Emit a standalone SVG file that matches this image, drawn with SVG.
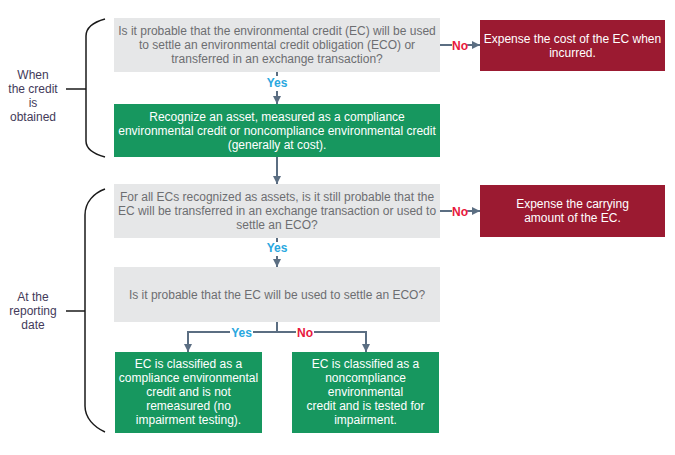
<svg xmlns="http://www.w3.org/2000/svg" width="675" height="455" viewBox="0 0 675 455">
<defs>
<marker id="ah" markerUnits="userSpaceOnUse" markerWidth="9" markerHeight="9" refX="8" refY="4" orient="auto">
<path d="M0,0 L8,4 L0,8 z" fill="#5b6e82"/>
</marker>
<style>
text{font-family:"Liberation Sans",Arial,sans-serif;font-size:12px;text-anchor:middle}
.q rect{fill:#e6e7e8}
.q text{fill:#6d6e71}
.g rect{fill:#17975f}
.r rect{fill:#9b1a31}
.g text,.r text{fill:#ffffff}
.lbl{fill:#433a5a}
.yes{fill:#29a8e0;font-weight:bold;font-size:12px}
.no{fill:#e8183d;font-weight:bold;font-size:12px}
.c{stroke:#5b6e82;stroke-width:2;fill:none}
.br{stroke:#1a1a1a;stroke-width:1.5;fill:none}
</style>
</defs>
<rect width="675" height="455" fill="#ffffff"/>

<g id="brace1">
<path class="br" d="M105,19 C94,22 86,27 86,36 V141 C86,149 94,154 105,157"/>
<path class="br" d="M66,89 H86"/>
<text class="lbl" x="33" y="79">When</text>
<text class="lbl" x="33" y="93">the credit</text>
<text class="lbl" x="33" y="107">is</text>
<text class="lbl" x="33" y="121">obtained</text>
</g>

<g id="brace2">
<path class="br" d="M105,189 C94,193 85,202 85,215 V406 C85,418 94,427 105,432"/>
<path class="br" d="M66,311 H85"/>
<text class="lbl" x="33" y="301">At the</text>
<text class="lbl" x="33" y="315">reporting</text>
<text class="lbl" x="33" y="329">date</text>
</g>

<g id="q1" class="q">
<rect x="114" y="18" width="326" height="54"/>
<text x="277" y="34.5">Is it probable that the environmental credit (EC) will be used</text>
<text x="277" y="48.5">to settle an environmental credit obligation (ECO) or</text>
<text x="277" y="62.5">transferred in an exchange transaction?</text>
</g>

<g id="e1" class="r">
<rect x="480" y="20" width="185" height="51"/>
<text x="572.5" y="42.5">Expense the cost of the EC when</text>
<text x="572.5" y="56.5">incurred.</text>
</g>

<g id="a1" class="g">
<rect x="114" y="104" width="326" height="53"/>
<text x="277" y="121">Recognize an asset, measured as a compliance</text>
<text x="277" y="135">environmental credit or noncompliance environmental credit</text>
<text x="277" y="149">(generally at cost).</text>
</g>

<g id="q2" class="q">
<rect x="114" y="184" width="326" height="54"/>
<text x="277" y="201">For all ECs recognized as assets, is it still probable that the</text>
<text x="277" y="215">EC will be transferred in an exchange transaction or used to</text>
<text x="277" y="229">settle an ECO?</text>
</g>

<g id="e2" class="r">
<rect x="480" y="185" width="185" height="52"/>
<text x="572.5" y="208">Expense the carrying</text>
<text x="572.5" y="222">amount of the EC.</text>
</g>

<g id="q3" class="q">
<rect x="114" y="267" width="326" height="55"/>
<text x="277" y="299">Is it probable that the EC will be used to settle an ECO?</text>
</g>

<g id="c1" class="g">
<rect x="115" y="352" width="147" height="81"/>
<text x="188.5" y="368">EC is classified as a</text>
<text x="188.5" y="382">compliance environmental</text>
<text x="188.5" y="396">credit and is not</text>
<text x="188.5" y="410">remeasured (no</text>
<text x="188.5" y="424">impairment testing).</text>
</g>

<g id="c2" class="g">
<rect x="292" y="352" width="147" height="81"/>
<text x="365.5" y="368">EC is classified as a</text>
<text x="365.5" y="382">noncompliance</text>
<text x="365.5" y="396">environmental</text>
<text x="365.5" y="410">credit and is tested for</text>
<text x="365.5" y="424">impairment.</text>
</g>

<g id="connectors">
<path class="c" d="M440,45 H452"/>
<path class="c" d="M467,45 H480" marker-end="url(#ah)"/>
<text class="no" x="460" y="49.5">No</text>

<path class="c" d="M277,72 V76"/>
<text class="yes" x="277" y="86.5">Yes</text>
<path class="c" d="M277,91 V104" marker-end="url(#ah)"/>

<path class="c" d="M277,157 V184" marker-end="url(#ah)"/>

<path class="c" d="M440,211 H452"/>
<path class="c" d="M467,211 H480" marker-end="url(#ah)"/>
<text class="no" x="460" y="215.5">No</text>

<path class="c" d="M277,238 V242"/>
<text class="yes" x="277" y="251.5">Yes</text>
<path class="c" d="M277,256 V267" marker-end="url(#ah)"/>

<path class="c" d="M277,322 V332"/>
<path class="c" d="M230,332 H188 V352" marker-end="url(#ah)"/>
<path class="c" d="M253,332 H296"/>
<path class="c" d="M314,332 H366 V352" marker-end="url(#ah)"/>
<text class="yes" x="241.5" y="336.5">Yes</text>
<text class="no" x="305" y="336.5">No</text>
</g>
</svg>
